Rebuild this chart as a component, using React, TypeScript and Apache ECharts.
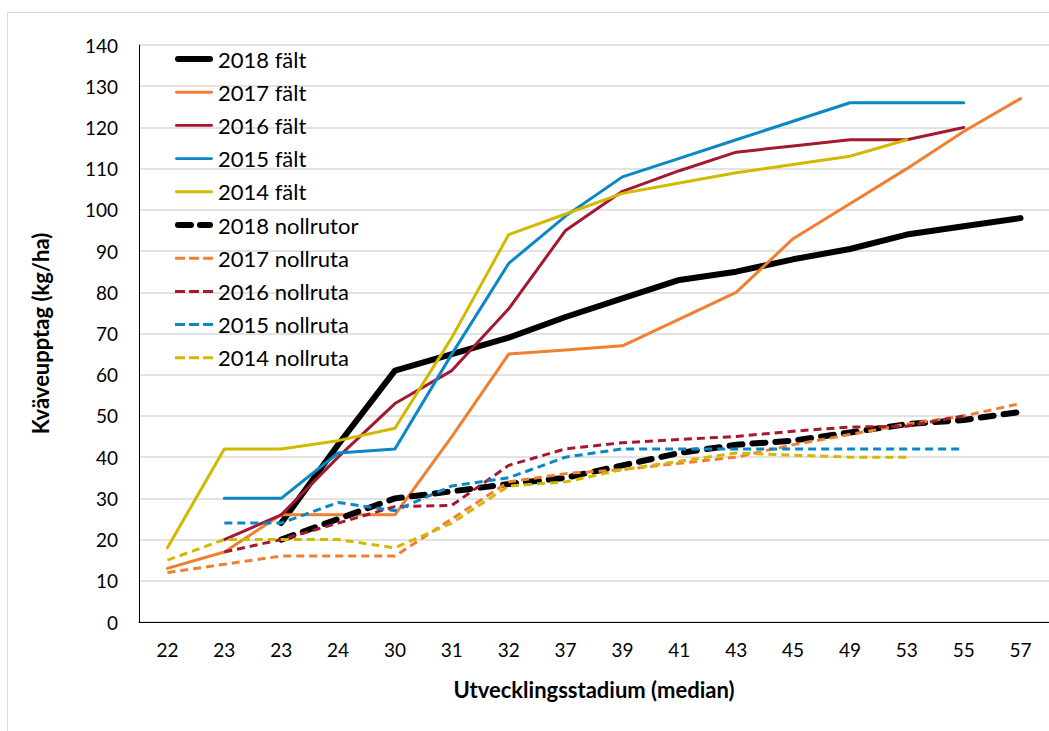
import React, { useEffect, useRef } from "react";
import * as echarts from "echarts";

const categories = ["22", "23", "23", "24", "30", "31", "32", "37", "39", "41", "43", "45", "49", "53", "55", "57"];

const falt2018 = [null, null, 24, 43, 61, 65, 69, 74, 78.5, 83, 85, 88, 90.5, 94, 96, 98];
const falt2017 = [13, 17, 26, 26, 26, 45, 65, 66, 67, 73.5, 80, 93, 101.5, 110, 119, 127];
const falt2016 = [null, 20, 26, 40, 53, 61, 76, 95, 104.5, 109.5, 114, 115.5, 117, 117, 120, null];
const falt2015 = [null, 30, 30, 41, 42, 65, 87, 98.5, 108, 112.5, 117, 121.5, 126, 126, 126, null];
const falt2014 = [18, 42, 42, 44, 47, 69, 94, 99, 104, 106.5, 109, 111, 113, 117, null, null];
const noll2018 = [null, null, 20, 25, 30, 31.7, 33.5, 35, 38, 41, 43, 44, 46, 48, 49, 51];
const noll2017 = [12, 14, 16, 16, 16, 25, 34, 36, 37, 38.5, 40, 43, 45.5, 48, 50, 53];
const noll2016 = [null, 17, 20, 24, 28, 28.3, 38, 42, 43.5, 44.3, 45, 46.3, 47.3, 47.5, 50, null];
const noll2015 = [null, 24, 24, 29, 27, 33, 35, 40, 42, 42, 42, 42, 42, 42, 42, null];
const noll2014 = [15, 20, 20, 20, 18, 24, 33, 34, 37, 39, 41, 40.5, 40, 40, null, null];

const seriesNames = [
  "2018 fält",
  "2017 fält",
  "2016 fält",
  "2015 fält",
  "2014 fält",
  "2018 nollrutor",
  "2017 nollruta",
  "2016 nollruta",
  "2015 nollruta",
  "2014 nollruta",
];

const BLACK = "#000000";
const ORANGE = "#F07F32";
const RED = "#A3192F";
const BLUE = "#0A87C5";
const YELLOW = "#D3B800";

const FONT = "Lato, 'Noto Sans', sans-serif";

// legend icon shapes (38 x 14 box)
const BOX = "M0,0M38,14";
const ICON_THIN = "path://" + BOX + "M1,5.5h36a1.5,1.5 0 0 1 0,3h-36a1.5,1.5 0 0 1 0,-3z";
const ICON_THICK = "path://" + BOX + "M3,4h32a3,3 0 0 1 0,6h-32a3,3 0 0 1 0,-6z";
const ICON_DASH = "path://" + BOX + "M0,5.5h10v3h-10z M14,5.5h10v3h-10z M28,5.5h10v3h-10z";
const ICON_DASH_THICK =
  "path://" + BOX + "M3,4h13a3,3 0 0 1 0,6h-13a3,3 0 0 1 0,-6z M25,4h10a3,3 0 0 1 0,6h-10a3,3 0 0 1 0,-6z";

export default function App() {
  const ref = useRef<HTMLDivElement>(null);

  useEffect(() => {
    if (!ref.current) return;
    const chart = echarts.init(ref.current, null, { renderer: "svg" });

    const mk = (name: string, data: any[], color: string, width: number, dash: any, cap: string) => ({
      name,
      type: "line",
      data,
      symbol: "none",
      showSymbol: false,
      connectNulls: false,
      lineStyle: { color, width, type: dash, cap, join: "round" },
      itemStyle: { color },
      emphasis: { disabled: true },
    });

    const series = [
      mk(seriesNames[0], falt2018, BLACK, 6, "solid", "round"),
      mk(seriesNames[1], falt2017, ORANGE, 3, "solid", "round"),
      mk(seriesNames[2], falt2016, RED, 3, "solid", "round"),
      mk(seriesNames[3], falt2015, BLUE, 3, "solid", "round"),
      mk(seriesNames[4], falt2014, YELLOW, 3, "solid", "round"),
      mk(seriesNames[5], noll2018, BLACK, 6, [13, 10], "round"),
      mk(seriesNames[6], noll2017, ORANGE, 3, [8, 5], "butt"),
      mk(seriesNames[7], noll2016, RED, 3, [8, 5], "butt"),
      mk(seriesNames[8], noll2015, BLUE, 3, [8, 5], "butt"),
      mk(seriesNames[9], noll2014, YELLOW, 3, [8, 5], "butt"),
    ];

    const icons = [
      ICON_THICK,
      ICON_THIN,
      ICON_THIN,
      ICON_THIN,
      ICON_THIN,
      ICON_DASH_THICK,
      ICON_DASH,
      ICON_DASH,
      ICON_DASH,
      ICON_DASH,
    ];

    chart.setOption({
      animation: false,
      backgroundColor: "#ffffff",
      grid: { left: 139, right: -2, top: 45, bottom: 109, containLabel: false },
      graphic: [
        {
          type: "rect",
          shape: { x: 7.5, y: 12.5, width: 1100, height: 800 },
          style: { fill: "none", stroke: "#d9d9d9", lineWidth: 1 },
          silent: true,
          z: -1,
        },
      ],
      legend: {
        data: seriesNames.map((n, i) => ({ name: n, icon: icons[i] })),
        orient: "vertical",
        left: 175,
        top: 48,
        itemWidth: 38,
        itemHeight: 14,
        itemGap: 11.2,
        textStyle: { fontFamily: FONT, fontSize: 22, color: "#000" },
        padding: 0,
      },
      xAxis: {
        type: "category",
        data: categories,
        boundaryGap: true,
        axisLine: { lineStyle: { color: "#000", width: 1 } },
        axisTick: { show: false },
        axisLabel: { fontFamily: FONT, fontSize: 19, color: "#000", margin: 18, interval: 0 },
        name: "Utvecklingsstadium (median)",
        nameLocation: "middle",
        nameGap: 56,
        nameTextStyle: { fontFamily: FONT, fontSize: 22, fontWeight: "bold", color: "#000" },
        splitLine: { show: false },
      },
      yAxis: {
        type: "value",
        min: 0,
        max: 140,
        interval: 10,
        axisLine: { show: true, lineStyle: { color: "#000", width: 1 } },
        axisTick: { show: false },
        axisLabel: { fontFamily: FONT, fontSize: 19, color: "#000", margin: 21 },
        splitLine: { show: true, lineStyle: { color: "#d9d9d9", width: 1.5 } },
        name: "Kväveupptag (kg/ha)",
        nameLocation: "middle",
        nameGap: 88,
        nameTextStyle: { fontFamily: FONT, fontSize: 22, fontWeight: "bold", color: "#000" },
      },
      series,
    });

    return () => chart.dispose();
  }, []);

  return (
    <div
      ref={ref}
      style={{ position: "absolute", left: 0, top: 0, width: 1049, height: 731, overflow: "hidden" }}
    />
  );
}
